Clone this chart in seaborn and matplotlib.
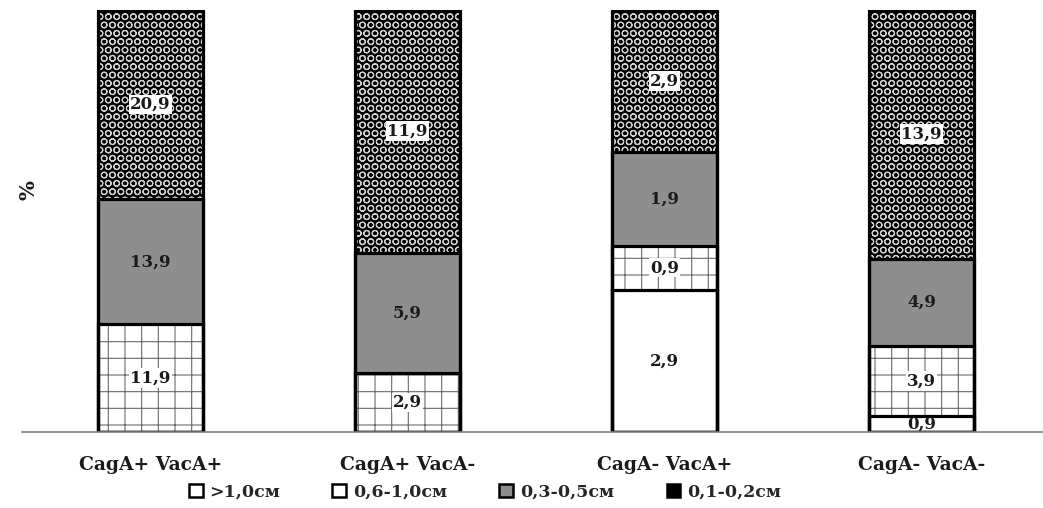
import matplotlib
matplotlib.use("Agg")
import matplotlib.pyplot as plt
from matplotlib.patches import Patch
import seaborn as sns
import numpy as np
import pandas as pd

categories = ["CagA+ VacA+", "CagA+ VacA-", "CagA- VacA+", "CagA- VacA-"]
series_names = [">1,0см", "0,6-1,0см", "0,3-0,5см", "0,1-0,2см"]
gt10 = [0, 0, 2.9, 0.9]
s06_10 = [11.9, 2.9, 0.9, 3.9]
s03_05 = [13.9, 5.9, 1.9, 4.9]
s01_02 = [20.9, 11.9, 2.9, 13.9]

sns.set_theme(style="white")
plt.rcParams['font.family'] = ['DejaVu Serif', 'Liberation Serif']
plt.rcParams['font.weight'] = 'bold'
plt.rcParams['hatch.linewidth'] = 0.8

vals = np.array([gt10, s06_10, s03_05, s01_02], dtype=float)
pct = vals / vals.sum(axis=0) * 100
cum = np.cumsum(pct, axis=0)

styles = [
    dict(face="white", hatchc="white", hatch=None),
    dict(face="white", hatchc="#6a6a6a", hatch="+"),
    dict(face="#8e8e8e", hatchc="#8e8e8e", hatch=None),
    dict(face="black", hatchc="#d0d0d0", hatch="OO"),
]

fig = plt.figure(figsize=(10.43, 5.08), dpi=100)
ax = fig.add_axes([22 / 1043, 76 / 508, 1028 / 1043, 422 / 508])

W = 0.41
# draw cumulative layers from top down so lower ones cover upper ones
for i in range(3, -1, -1):
    st = styles[i]
    df = pd.DataFrame({"cat": categories, "v": cum[i]})
    kw = dict(hatch=st["hatch"]) if st["hatch"] else {}
    sns.barplot(data=df, x="cat", y="v", order=categories, color=st["face"],
                saturation=1, edgecolor=st["hatchc"], linewidth=0,
                width=W, errorbar=None, ax=ax, **kw)
for i in range(3, -1, -1):
    df = pd.DataFrame({"cat": categories, "v": cum[i]})
    sns.barplot(data=df, x="cat", y="v", order=categories, fill=False,
                color="black", linewidth=2.3, width=W, errorbar=None, ax=ax)

# value labels
for i in range(4):
    for j in range(4):
        v = vals[i, j]
        if v <= 0:
            continue
        yc = cum[i, j] - pct[i, j] / 2
        txt = f"{v:.1f}".replace(".", ",")
        bbox = None
        if i in (1, 3):
            bbox = dict(boxstyle="square,pad=0.08", facecolor="white", edgecolor="none")
        ax.text(j, yc, txt, ha="center", va="center", fontsize=12,
                fontweight="bold", color="#1a1a1a", bbox=bbox, zorder=10)

ax.set_xlim(-0.5, 3.5)
ax.set_ylim(0, 100)
ax.set_xlabel("")
ax.set_ylabel("")
ax.set_yticks([])
for s in ["top", "right", "left"]:
    ax.spines[s].set_visible(False)
ax.spines["bottom"].set_color("#808080")
ax.spines["bottom"].set_linewidth(1.2)
ax.set_xticks(range(4))
ax.set_xticklabels(categories, fontsize=13.5, fontweight="bold", color="#1a1a1a")
ax.tick_params(axis="x", which="major", length=0, pad=17)
ax.set_xticks([-0.5, 0.5, 1.5, 2.5], minor=True)
ax.tick_params(axis="x", which="minor", length=5, width=1, color="#808080", direction="out")

fig.text(0.027, 1 - 190 / 508, "%", rotation=90, fontsize=15, fontweight="bold",
         ha="center", va="center", color="#1a1a1a")

handles = [
    Patch(facecolor="white", edgecolor="black", linewidth=1.8),
    Patch(facecolor="white", edgecolor="black", linewidth=1.8),
    Patch(facecolor="#8e8e8e", edgecolor="black", linewidth=1.8),
    Patch(facecolor="black", edgecolor="black", linewidth=1.8),
]
fig.legend(handles, series_names, loc="center", bbox_to_anchor=(485 / 1043, 1 - 492 / 508),
           ncol=4, frameon=False, handlelength=0.8, handleheight=0.8,
           handletextpad=0.4, columnspacing=3.0, prop=dict(weight="bold", size=12.5))

fig.savefig("out.png", dpi=100)
